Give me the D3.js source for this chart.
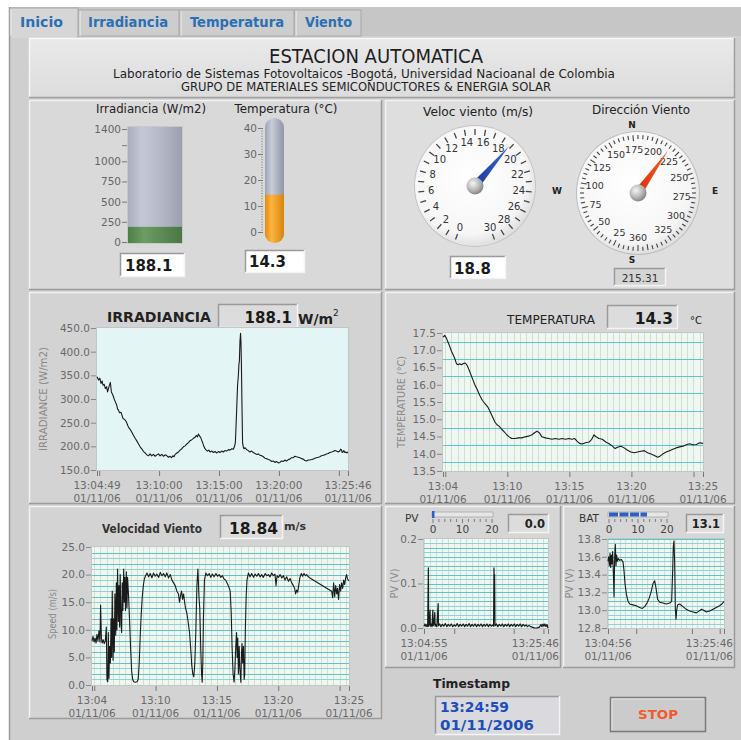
<!DOCTYPE html>
<html><head><meta charset="utf-8">
<script src="https://cdn.jsdelivr.net/npm/d3@7"></script>
<style>
html,body{margin:0;padding:0;background:#fff;}
svg{display:block;font-family:"DejaVu Sans",sans-serif;}
</style>
</head><body>
<svg id="panel" width="741" height="740"></svg>
<script>
// ---------- readings ----------
const tabNames = ["Inicio", "Irradiancia", "Temperatura", "Viento"];
const irradianceNow = 188.1;
const temperatureNow = 14.3;
const windSpeedNow = 18.8;
const windSpeedChartNow = 18.84;
const windDirectionNow = 215.31;
const pvNow = 0.0;
const batNow = 13.1;
const timestampLines = ["13:24:59", "01/11/2006"];

// gauge scales
const irrGaugeTicks = [0, 250, 500, 750, 1000, 1400];
const tempGaugeTicks = [0, 10, 20, 30, 40];
const speedDialLabels = [0, 2, 4, 6, 8, 10, 12, 14, 16, 18, 20, 22, 24, 26, 28, 30];
const compassLabels = [25, 50, 75, 100, 125, 150, 175, 200, 225, 250, 275, 300, 325, 360];

// chart axes
const irrYTicks = [150, 200, 250, 300, 350, 400, 450];
const tempYTicks = [13.5, 14.0, 14.5, 15.0, 15.5, 16.0, 16.5, 17.0, 17.5];
const windYTicks = [0, 5, 10, 15, 20, 25];
const pvYTicks = [0, 0.1, 0.2];
const batYTicks = [12.8, 13.0, 13.2, 13.4, 13.6, 13.8];

// series: [seconds after the chart start, value]
const irradianceSeries = [[0,347],[8,340],[14,344],[20,333],[26,338],[30,329],[36,331],[42,322],[48,326],[53,315],[60,326],[67,335],[72,315],[80,308],[86,300],[92,294],[98,288],[103,279],[108,276],[113,271],[120,272],[125,266],[130,259],[138,257],[147,252],[152,246],[158,240],[166,236],[175,229],[183,223],[191,217],[200,211],[208,205],[216,199],[225,194],[233,189],[241,186],[250,182],[258,180],[266,184],[274,180],[283,183],[291,179],[300,182],[308,184],[316,180],[325,183],[333,179],[341,182],[350,180],[358,177],[366,179],[373,176],[380,180],[386,178],[391,183],[400,186],[408,188],[416,192],[425,195],[433,199],[441,201],[450,205],[458,208],[466,212],[475,214],[483,217],[491,219],[497,223],[503,220],[508,226],[513,222],[519,219],[524,213],[529,208],[535,200],[541,195],[547,192],[553,190],[560,192],[566,188],[575,190],[583,187],[591,189],[600,186],[608,189],[616,187],[625,190],[633,188],[641,191],[649,190],[658,193],[666,192],[675,195],[683,194],[688,199],[693,208],[696,240],[699,272],[704,329],[708,350],[711,375],[713,379],[716,422],[719,439],[721,420],[723,379],[726,286],[729,208],[733,198],[736,195],[742,197],[749,193],[757,191],[766,188],[774,190],[783,187],[791,185],[799,183],[808,184],[816,181],[825,180],[833,178],[841,175],[849,174],[858,172],[866,171],[875,168],[883,169],[891,166],[899,168],[908,165],[916,166],[924,169],[933,168],[941,171],[949,169],[958,172],[966,173],[974,176],[983,176],[991,179],[999,178],[1008,177],[1016,176],[1024,174],[1033,173],[1041,170],[1049,169],[1058,171],[1066,171],[1075,172],[1083,173],[1091,175],[1099,176],[1108,177],[1116,178],[1124,180],[1133,181],[1141,182],[1149,184],[1158,185],[1166,187],[1175,188],[1183,189],[1191,191],[1199,190],[1208,188],[1216,190],[1220,194],[1224,193],[1228,187],[1232,188],[1236,191],[1241,187],[1246,188],[1252,186],[1257,188.1]];

const temperatureSeries = [[0,17.38],[8,17.43],[16,17.36],[24,17.24],[32,17.12],[41,16.97],[49,16.87],[57,16.76],[65,16.61],[73,16.58],[81,16.61],[89,16.58],[97,16.61],[105,16.63],[114,16.59],[122,16.49],[130,16.37],[141,16.2],[154,16.0],[167,15.84],[178,15.69],[190,15.55],[203,15.45],[216,15.36],[227,15.23],[238,15.09],[251,14.92],[261,14.84],[271,14.8],[284,14.71],[297,14.63],[308,14.55],[320,14.49],[332,14.44],[349,14.44],[365,14.46],[381,14.46],[397,14.49],[414,14.51],[430,14.55],[443,14.61],[454,14.65],[466,14.61],[478,14.49],[495,14.46],[511,14.44],[527,14.42],[543,14.44],[560,14.42],[576,14.44],[592,14.42],[608,14.44],[624,14.42],[637,14.44],[649,14.36],[660,14.3],[673,14.28],[689,14.32],[706,14.34],[719,14.42],[730,14.55],[738,14.5],[754,14.44],[770,14.42],[787,14.34],[803,14.29],[819,14.22],[832,14.15],[843,14.19],[860,14.22],[876,14.17],[892,14.1],[908,14.05],[924,14.03],[941,14.05],[957,14.07],[973,14.09],[989,14.03],[1006,13.99],[1022,13.95],[1038,13.9],[1049,13.93],[1062,13.99],[1079,14.05],[1095,14.09],[1111,14.13],[1127,14.17],[1144,14.2],[1160,14.22],[1176,14.26],[1192,14.29],[1208,14.26],[1225,14.27],[1241,14.32],[1257,14.3]];

const windSeries = [[0,8.0],[5,8.8],[10,7.8],[15,8.5],[20,7.6],[24,9.2],[29,8.0],[34,9.8],[39,7.8],[42,14.5],[46,8.5],[50,7.6],[55,8.2],[60,7.5],[65,8.0],[70,10.5],[73,1.0],[77,0.6],[80,9.5],[83,1.2],[86,7.0],[90,4.0],[93,12.0],[96,5.0],[99,17.0],[103,4.5],[106,12.0],[109,6.0],[112,16.5],[116,9.0],[119,18.5],[122,10.0],[125,21.0],[129,11.5],[132,18.0],[135,10.5],[138,20.0],[142,11.0],[145,9.5],[148,18.5],[151,13.5],[155,21.0],[158,15.0],[161,19.5],[164,13.5],[168,20.5],[171,14.0],[174,19.5],[179,16.0],[184,11.5],[189,6.5],[194,2.5],[199,1.0],[204,0.6],[212,0.5],[220,0.6],[226,1.0],[231,4.0],[236,9.0],[241,13.0],[246,16.0],[251,18.0],[256,19.2],[262,19.8],[269,20.3],[277,19.6],[285,20.2],[293,19.4],[301,20.3],[309,19.7],[317,20.1],[326,19.5],[334,20.4],[342,19.8],[350,20.2],[358,19.6],[366,20.3],[374,19.4],[383,20.0],[391,19.0],[399,18.5],[407,18.0],[415,17.0],[423,16.5],[428,15.0],[433,16.2],[438,17.0],[443,15.5],[448,16.5],[453,15.0],[457,14.0],[464,13.0],[470,11.5],[477,9.5],[484,6.0],[488,3.5],[493,2.0],[498,1.5],[503,4.0],[508,10.0],[513,18.0],[518,21.0],[523,16.0],[527,14.0],[532,6.5],[536,2.0],[539,0.5],[542,4.0],[545,12.0],[550,19.0],[557,20.3],[565,19.8],[573,20.2],[581,19.5],[589,20.1],[597,19.6],[606,20.2],[614,19.7],[622,20.0],[630,19.5],[638,19.8],[646,19.2],[654,19.0],[663,18.3],[669,17.8],[676,17.0],[681,13.0],[685,7.0],[690,2.0],[695,0.5],[699,3.0],[702,6.0],[707,9.5],[710,5.0],[713,8.5],[716,2.0],[720,7.0],[723,3.0],[728,0.5],[731,5.5],[734,7.5],[737,4.0],[741,7.0],[744,1.0],[747,2.0],[750,10.0],[754,16.0],[758,19.0],[765,20.3],[773,19.6],[781,20.2],[790,19.5],[798,20.1],[806,19.7],[814,20.2],[822,19.6],[830,20.0],[838,19.5],[847,20.2],[855,19.8],[863,20.0],[871,19.6],[879,20.3],[887,19.8],[895,20.1],[900,18.0],[905,19.8],[912,19.5],[920,20.0],[928,19.4],[936,19.8],[944,19.0],[952,19.6],[961,18.8],[969,19.3],[977,18.5],[985,18.0],[991,17.5],[996,16.5],[1001,17.2],[1006,16.8],[1011,18.0],[1017,19.5],[1024,20.2],[1030,19.7],[1037,20.2],[1044,19.8],[1050,20.0],[1058,19.6],[1066,19.4],[1172,17.0],[1177,15.8],[1182,18.5],[1187,16.0],[1192,18.0],[1197,16.5],[1201,17.5],[1206,15.5],[1211,18.2],[1216,17.0],[1221,18.5],[1226,17.5],[1231,19.0],[1236,18.2],[1241,19.5],[1245,20.0],[1250,19.2],[1257,18.84]];

const pvSeries = [[0,0.004],[10,0.009],[20,0.003],[30,0.008],[37,0.003],[44,0.135],[47,0.004],[54,0.01],[61,0.04],[64,0.004],[72,0.009],[80,0.003],[89,0.04],[92,0.005],[100,0.009],[109,0.035],[112,0.004],[120,0.008],[130,0.003],[143,0.055],[146,0.005],[158,0.009],[170,0.003],[185,0.008],[200,0.004],[215,0.01],[230,0.003],[245,0.008],[260,0.004],[275,0.009],[290,0.003],[305,0.007],[320,0.004],[335,0.01],[350,0.003],[365,0.008],[380,0.004],[395,0.009],[410,0.003],[425,0.008],[440,0.004],[455,0.01],[470,0.003],[485,0.008],[500,0.004],[515,0.009],[530,0.003],[545,0.008],[560,0.004],[575,0.009],[590,0.003],[605,0.008],[620,0.004],[635,0.009],[650,0.003],[665,0.008],[680,0.004],[695,0.007],[702,0.004],[706,0.135],[709,0.08],[712,0.12],[716,0.005],[730,0.009],[745,0.003],[760,0.008],[775,0.004],[790,0.009],[805,0.003],[820,0.008],[835,0.004],[850,0.009],[865,0.003],[880,0.008],[895,0.004],[910,0.009],[925,0.003],[940,0.008],[955,0.004],[970,0.009],[985,0.003],[1000,0.008],[1015,0.004],[1030,0.007],[1045,0.003],[1060,0.006],[1075,0.003],[1090,0.002],[1105,0.001],[1120,0.0],[1135,0.0],[1150,0.001],[1165,0.002],[1180,0.008],[1190,0.003],[1200,0.009],[1210,0.004],[1220,0.009],[1230,0.003],[1240,0.008],[1251,0.0]];

const batSeries = [[0,13.55],[7,13.6],[14,13.5],[22,13.64],[29,13.48],[36,13.62],[43,13.52],[50,13.66],[57,13.45],[65,13.15],[72,13.6],[79,13.74],[86,13.5],[93,13.62],[101,13.55],[111,13.58],[126,13.56],[144,13.57],[162,13.54],[172,13.45],[183,13.3],[198,13.18],[216,13.1],[233,13.07],[269,13.06],[305,13.05],[341,13.03],[370,13.02],[395,13.04],[420,13.08],[442,13.13],[463,13.2],[485,13.3],[503,13.33],[517,13.25],[535,13.12],[557,13.09],[593,13.08],[629,13.07],[665,13.08],[686,13.1],[697,13.45],[704,13.72],[711,13.78],[718,13.55],[726,13.0],[733,12.9],[740,13.0],[751,13.06],[772,13.07],[808,13.04],[844,13.01],[880,12.99],[916,12.98],[952,12.97],[981,12.99],[1006,13.01],[1031,13.0],[1060,12.98],[1096,12.99],[1131,13.01],[1167,13.03],[1203,13.05],[1228,13.07],[1250,13.1]];

// ---------- helpers ----------
const svg = d3.select("#panel");
const defs = svg.append("defs");
const at = (h, m, s) => new Date(2006, 10, 1, h, m, s);
const fmtHMS = d3.timeFormat("%H:%M:%S");
const fmtHM = d3.timeFormat("%H:%M");
const fmtDate = d3.timeFormat("%d/%m/%y");
const rad = a => a * Math.PI / 180;

function grad(id, stops, x2 = 1, y2 = 0) {
  const g = defs.append("linearGradient").attr("id", id)
    .attr("x1", 0).attr("y1", 0).attr("x2", x2).attr("y2", y2);
  stops.forEach(([o, c]) => g.append("stop").attr("offset", o).attr("stop-color", c));
}
function rgrad(id, stops, cx = 0.5, cy = 0.5, r = 0.5) {
  const g = defs.append("radialGradient").attr("id", id)
    .attr("cx", cx).attr("cy", cy).attr("r", r);
  stops.forEach(([o, c]) => g.append("stop").attr("offset", o).attr("stop-color", c));
}
function txt(g, x, y, s, o = {}) {
  const t = g.append("text").attr("x", x).attr("y", y).text(s)
    .attr("font-size", o.size || 11).attr("fill", o.fill || "#222")
    .attr("text-anchor", o.anchor || "start");
  if (o.weight) t.attr("font-weight", o.weight);
  if (o.family) t.attr("font-family", o.family);
  if (o.len) t.attr("textLength", o.len).attr("lengthAdjust", "spacingAndGlyphs");
  return t;
}
function panel(x, y, w, h, fill) {
  svg.append("rect").attr("x", x).attr("y", y).attr("width", w).attr("height", h).attr("fill", fill);
  svg.append("path").attr("d", `M${x + 0.5},${y + h}V${y + 0.5}H${x + w}`)
    .attr("fill", "none").attr("stroke", "#f2f2f2").attr("stroke-width", 1.5);
  svg.append("path").attr("d", `M${x + w - 0.5},${y}V${y + h - 0.5}H${x}`)
    .attr("fill", "none").attr("stroke", "#9c9c9c").attr("stroke-width", 1.5);
}
function inset(x, y, w, h, fill) {
  svg.append("rect").attr("x", x).attr("y", y).attr("width", w).attr("height", h).attr("fill", fill);
  svg.append("path").attr("d", `M${x + 0.5},${y + h}V${y + 0.5}H${x + w}`)
    .attr("fill", "none").attr("stroke", "#9a9a9a").attr("stroke-width", 1.5);
  svg.append("path").attr("d", `M${x + w - 0.5},${y}V${y + h - 0.5}H${x}`)
    .attr("fill", "none").attr("stroke", "#f4f4f4").attr("stroke-width", 1.5);
}

grad("gHeader", [[0, "#e9e9e9"], [1, "#dcdcdc"]], 0, 1);
grad("gTank", [[0, "#a9adbd"], [0.25, "#c4c8d6"], [0.6, "#b6bac8"], [1, "#9a9eae"]]);
grad("gTankFill", [[0, "#4e7f48"], [0.3, "#6b9d64"], [1, "#4a7644"]]);
grad("gTube", [[0, "#9ea3b4"], [0.35, "#c9cdda"], [1, "#8f94a6"]]);
grad("gTubeFill", [[0, "#e38c12"], [0.35, "#fbb540"], [1, "#d98408"]]);
rgrad("gFace", [[0, "#ffffff"], [0.8, "#f6f6f6"], [1, "#dcdcdc"]], 0.45, 0.42, 0.6);
rgrad("gHub", [[0, "#f5f5f5"], [0.6, "#b4b4b4"], [1, "#7c7c7c"]], 0.38, 0.35, 0.7);
grad("gBlueNeedle", [[0, "#16318f"], [1, "#3d6ad8"]]);
grad("gRedNeedle", [[0, "#d82808"], [1, "#f3622a"]]);

// ---------- frame and tabs ----------
svg.append("rect").attr("x", 9).attr("y", 7).attr("width", 732).attr("height", 30).attr("fill", "#c6c6c6");
svg.append("rect").attr("x", 9).attr("y", 36).attr("width", 732).attr("height", 704).attr("fill", "#cfcfcf");
svg.append("line").attr("x1", 9.5).attr("x2", 9.5).attr("y1", 7).attr("y2", 740).attr("stroke", "#9a9a9a").attr("stroke-width", 1.5);

const tabBoxes = [[10, 78], [79, 179], [180, 294], [295, 361]];
tabNames.forEach((name, i) => {
  const [a, b] = tabBoxes[i];
  const sel = i === 0;
  svg.append("rect").attr("x", a).attr("y", sel ? 8 : 10).attr("width", b - a).attr("height", sel ? 29 : 26)
    .attr("fill", sel ? "#d6d6d6" : "#cdcdcd").attr("stroke", "#a8a8a8").attr("stroke-width", 1);
  svg.append("line").attr("x1", a + 1).attr("x2", a + 1).attr("y1", sel ? 9 : 11).attr("y2", 36)
    .attr("stroke", "#efefef");
});
svg.append("rect").attr("x", 11).attr("y", 34).attr("width", 66).attr("height", 4).attr("fill", "#d6d6d6");
const tabText = [[20, 43], [88, 80], [190, 94], [305, 47]];
tabNames.forEach((name, i) => {
  txt(svg, tabText[i][0], 27, name, { size: 14, weight: "bold", fill: "#2b6fb4",
    family: "'DejaVu Sans Condensed', 'DejaVu Sans', sans-serif", len: tabText[i][1] });
});

// ---------- panels ----------
svg.append("rect").attr("x", 29).attr("y", 38).attr("width", 706).attr("height", 60).attr("fill", "url(#gHeader)");
svg.append("path").attr("d", "M29.5,98V38.5H735").attr("fill", "none").attr("stroke", "#f8f8f8").attr("stroke-width", 1.5);
svg.append("path").attr("d", "M734.5,38V97.5H29").attr("fill", "none").attr("stroke", "#a0a0a0").attr("stroke-width", 1.5);

panel(29, 100, 353, 190, "#d9d9d9");
panel(385, 100, 350, 190, "#dedede");
panel(29, 292, 353, 212, "#d3d3d3");
panel(385, 292, 350, 212, "#d6d6d6");
panel(29, 506, 353, 213, "#d3d3d3");
panel(385, 506, 176, 162, "#d6d6d6");
panel(563, 506, 172, 162, "#d6d6d6");

// header texts
const condensed = "'DejaVu Sans Condensed', 'Liberation Sans Narrow', sans-serif";
txt(svg, 376, 63, "ESTACION AUTOMATICA", { size: 19, anchor: "middle", family: condensed, fill: "#1e1e1e", len: 214 });
txt(svg, 364, 78, "Laboratorio de Sistemas Fotovoltaicos -Bogotá,  Universidad Nacioanal de Colombia",
  { size: 12, anchor: "middle", family: condensed, fill: "#1e1e1e", len: 502 });
txt(svg, 366, 91, "GRUPO DE MATERIALES SEMICONDUCTORES & ENERGIA SOLAR",
  { size: 12, anchor: "middle", family: condensed, fill: "#1e1e1e", len: 370 });

// ---------- irradiance tank ----------
(function () {
  txt(svg, 151, 113, "Irradiancia (W/m2)", { size: 11.5, anchor: "middle", fill: "#222", len: 110 });
  const y = d3.scaleLinear().domain([0, 1400]).range([242, 129]);
  const x0 = 128, x1 = 182;
  svg.append("rect").attr("x", x0).attr("y", 127).attr("width", x1 - x0).attr("height", 243 - 127).attr("fill", "url(#gTank)");
  svg.append("rect").attr("x", x0).attr("y", y(irradianceNow)).attr("width", x1 - x0)
    .attr("height", 243 - y(irradianceNow)).attr("fill", "url(#gTankFill)");
  svg.append("rect").attr("x", x0 - 0.5).attr("y", 126.5).attr("width", x1 - x0 + 1).attr("height", 117)
    .attr("fill", "none").attr("stroke", "#c8c8c8");
  const ax = d3.axisLeft(y).tickValues(irrGaugeTicks.concat([1200])).tickSize(5).tickPadding(1)
    .tickFormat(d => d === 1200 ? "" : d);
  svg.append("g").attr("transform", `translate(${x0 - 1},0)`).call(ax)
    .call(g => {
      g.select(".domain").remove();
      g.selectAll("line").attr("stroke", "#777");
      g.selectAll("text").attr("fill", "#666").attr("font-size", 10.5).attr("font-family", "DejaVu Sans");
    });
  inset(120, 253, 65, 24, "#ffffff");
  txt(svg, 125, 271, irradianceNow.toFixed(1), { size: 15, weight: "bold", fill: "#1a1a1a" });
})();

// ---------- thermometer ----------
(function () {
  txt(svg, 286, 113, "Temperatura (°C)", { size: 11.5, anchor: "middle", fill: "#222", len: 103 });
  const y = d3.scaleLinear().domain([0, 40]).range([232, 128]);
  const x0 = 265, w = 19;
  svg.append("rect").attr("x", x0).attr("y", 118).attr("width", w).attr("height", 125).attr("rx", 9.5)
    .attr("fill", "url(#gTube)");
  const cp = defs.append("clipPath").attr("id", "tubeClip");
  cp.append("rect").attr("x", x0).attr("y", y(temperatureNow)).attr("width", w).attr("height", 243 - y(temperatureNow));
  svg.append("rect").attr("x", x0).attr("y", 118).attr("width", w).attr("height", 125).attr("rx", 9.5)
    .attr("fill", "url(#gTubeFill)").attr("clip-path", "url(#tubeClip)");
  const minor = d3.range(0, 41, 1);
  svg.append("g").selectAll("line").data(minor).join("line")
    .attr("x1", d => d % 10 === 0 ? 258 : 261).attr("x2", 263)
    .attr("y1", d => y(d) + 0.5).attr("y2", d => y(d) + 0.5)
    .attr("stroke", d => d % 10 === 0 ? "#777" : "#999").attr("stroke-width", d => d % 10 === 0 ? 1 : 0.8);
  tempGaugeTicks.forEach(v => txt(svg, 257, y(v) + 4, v, { size: 10.5, anchor: "end", fill: "#666" }));
  inset(245, 250, 60, 23, "#ffffff");
  txt(svg, 249, 267, temperatureNow.toFixed(1), { size: 15, weight: "bold", fill: "#1a1a1a" });
})();

// ---------- dials ----------
function needle(cx, cy, angle, len, base, fill) {
  const a = rad(angle);
  const ux = Math.sin(a), uy = -Math.cos(a);
  const px = -uy, py = ux;
  const pts = [
    [cx + ux * len, cy + uy * len],
    [cx + px * base - ux * 3, cy + py * base - uy * 3],
    [cx - px * base - ux * 3, cy - py * base - uy * 3]
  ];
  svg.append("polygon").attr("points", pts.map(p => p.join(",")).join(" ")).attr("fill", fill);
}
function hub(cx, cy) {
  svg.append("circle").attr("cx", cx).attr("cy", cy).attr("r", 8.5).attr("fill", "url(#gHub)");
}

// wind speed dial
(function () {
  const cx = 475, cy = 186, r = 60;
  txt(svg, 478, 116, "Veloc viento (m/s)", { size: 12, anchor: "middle", fill: "#222", len: 110 });
  svg.append("circle").attr("cx", cx).attr("cy", cy).attr("r", r + 1).attr("fill", "#c4c4c4");
  svg.append("circle").attr("cx", cx).attr("cy", cy).attr("r", r).attr("fill", "url(#gFace)");
  const ang = d3.scaleLinear().domain([0, 30]).range([-160, 160]);
  d3.range(0, 31).forEach(v => {
    const a = rad(ang(v));
    svg.append("line")
      .attr("x1", cx + Math.sin(a) * 51).attr("y1", cy - Math.cos(a) * 51)
      .attr("x2", cx + Math.sin(a) * 57).attr("y2", cy - Math.cos(a) * 57)
      .attr("stroke", "#444").attr("stroke-width", 1.3);
  });
  speedDialLabels.forEach(v => {
    const a = rad(ang(v));
    txt(svg, cx + Math.sin(a) * 44, cy - Math.cos(a) * 44 + 3.5, v, { size: 10, anchor: "middle", fill: "#333" });
  });
  needle(cx, cy, ang(windSpeedNow), 53, 4.5, "url(#gBlueNeedle)");
  hub(cx, cy);
  inset(450, 256, 56, 23, "#ffffff");
  txt(svg, 454, 274, windSpeedNow.toFixed(1), { size: 15, weight: "bold", fill: "#1a1a1a" });
})();

// wind direction compass
(function () {
  const cx = 638, cy = 193, r = 61;
  txt(svg, 641, 114, "Dirección Viento", { size: 12, anchor: "middle", fill: "#222", len: 98 });
  txt(svg, 632, 128, "N", { size: 9, anchor: "middle", fill: "#222", weight: "bold" });
  txt(svg, 632, 263, "S", { size: 9, anchor: "middle", fill: "#222", weight: "bold" });
  txt(svg, 557, 194, "W", { size: 9, anchor: "middle", fill: "#222", weight: "bold" });
  txt(svg, 715, 194, "E", { size: 9, anchor: "middle", fill: "#222", weight: "bold" });
  svg.append("circle").attr("cx", cx).attr("cy", cy).attr("r", r + 1).attr("fill", "#bdbdbd");
  svg.append("circle").attr("cx", cx).attr("cy", cy).attr("r", r).attr("fill", "url(#gFace)");
  const ang = d3.scaleLinear().domain([0, 360]).range([180, 540]);
  d3.range(0, 360, 5).forEach(v => {
    const a = rad(ang(v));
    const inner = v % 25 === 0 ? 52 : 54;
    svg.append("line")
      .attr("x1", cx + Math.sin(a) * inner).attr("y1", cy - Math.cos(a) * inner)
      .attr("x2", cx + Math.sin(a) * 58).attr("y2", cy - Math.cos(a) * 58)
      .attr("stroke", "#444").attr("stroke-width", 1.1);
  });
  compassLabels.forEach(v => {
    const a = rad(ang(v));
    txt(svg, cx + Math.sin(a) * 44, cy - Math.cos(a) * 44 + 3.5, v, { size: 9.5, anchor: "middle", fill: "#333" });
  });
  needle(cx, cy, ang(windDirectionNow), 52, 4.5, "url(#gRedNeedle)");
  hub(cx, cy);
  inset(614, 268, 52, 18, "#d4d4d4");
  txt(svg, 640, 282, windDirectionNow.toFixed(2), { size: 10.5, anchor: "middle", fill: "#333" });
})();

// ---------- strip charts ----------
function stripChart(o) {
  const g = svg.append("g");
  if (o.clip) g.attr("clip-path", `url(#${o.clip})`);
  const x = d3.scaleTime().domain([o.t0, o.t1]).range([o.x0, o.x1]);
  const y = d3.scaleLinear().domain(o.yDomain).range([o.y1, o.y0]);
  const toDate = s => new Date(+o.t0 + s * 1000);
  g.append("rect").attr("x", o.x0).attr("y", o.y0).attr("width", o.x1 - o.x0).attr("height", o.y1 - o.y0)
    .attr("fill", o.bg);
  if (o.vStep) {
    g.append("g").selectAll("line").data(d3.timeSecond.every(o.vStep).range(o.t0, o.t1)).join("line")
      .attr("x1", d => Math.round(x(d)) + 0.5).attr("x2", d => Math.round(x(d)) + 0.5)
      .attr("y1", o.y0).attr("y2", o.y1).attr("stroke", o.vColor).attr("stroke-width", 1);
  }
  if (o.hGrid) {
    g.append("g").selectAll("line").data(o.hGrid).join("line")
      .attr("x1", o.x0).attr("x2", o.x1)
      .attr("y1", d => Math.round(y(d)) + 0.5).attr("y2", d => Math.round(y(d)) + 0.5)
      .attr("stroke", (d, i) => o.hColor(i)).attr("stroke-width", 1);
  }
  g.append("rect").attr("x", o.x0 - 0.5).attr("y", o.y0 - 0.5).attr("width", o.x1 - o.x0 + 1)
    .attr("height", o.y1 - o.y0 + 1).attr("fill", "none").attr("stroke", "#c2c6c6");
  const line = d3.line().x(d => x(toDate(d[0]))).y(d => y(d[1]));
  g.append("path").datum(o.series).attr("d", line).attr("fill", "none")
    .attr("stroke", "#1a1a1a").attr("stroke-width", o.lw || 1.1).attr("stroke-linejoin", "round");

  const ya = d3.axisLeft(y).tickValues(o.yTicks).tickFormat(o.yFormat).tickSize(5).tickPadding(1);
  g.append("g").attr("transform", `translate(${o.x0 - 1},0)`).call(ya)
    .call(a => {
      a.select(".domain").remove();
      a.selectAll("line").attr("stroke", "#888");
      a.selectAll("text").attr("fill", "#6a6a6a").attr("font-size", o.fs || 10.5).attr("font-family", "DejaVu Sans");
    });
  const xa = d3.axisBottom(x).tickValues(o.xTicks).tickSize(5).tickFormat("");
  g.append("g").attr("transform", `translate(0,${o.y1 + 1})`).call(xa)
    .call(a => { a.select(".domain").remove(); a.selectAll("line").attr("stroke", "#777"); });
  // time labels: [time, format, optional right edge the label must end at]
  o.xLabels.forEach(([d, f, rightEdge]) => {
    const lx = rightEdge !== undefined ? rightEdge : x(d);
    const t = g.append("text").attr("text-anchor", rightEdge !== undefined ? "end" : "middle")
      .attr("font-size", o.fs || 10.5).attr("fill", "#6a6a6a");
    t.append("tspan").attr("x", lx).attr("y", o.labelY).text(f(d));
    t.append("tspan").attr("x", lx).attr("y", o.labelY + 12.5).text(fmtDate(d));
  });
  const yt = g.append("text").attr("transform", `translate(${o.titleX},${(o.y0 + o.y1) / 2 + (o.titleDy || 0)}) rotate(-90)`)
    .attr("text-anchor", "middle").attr("font-size", o.titleSize || 10.5).attr("fill", "#8a8a8a").text(o.title);
  if (o.titleLen) yt.attr("textLength", o.titleLen).attr("lengthAdjust", "spacingAndGlyphs");
  return { x, y };
}

const mainStart = at(13, 4, 49), mainEnd = at(13, 25, 46);
const fiveMin = [mainStart, at(13, 5, 0), at(13, 10, 0), at(13, 15, 0), at(13, 20, 0), at(13, 25, 0), mainEnd];

// irradiance
txt(svg, 107, 322, "IRRADIANCIA", { size: 13.5, weight: "bold", fill: "#222", len: 104 });
inset(218, 304, 80, 24, "#dcdcdc");
txt(svg, 292, 323, irradianceNow.toFixed(1), { size: 15, weight: "bold", anchor: "end", fill: "#1a1a1a" });
txt(svg, 298, 324, "W/m", { size: 14, weight: "bold", fill: "#222" });
txt(svg, 333, 316, "2", { size: 9, fill: "#222" });
stripChart({
  x0: 97, x1: 348, y0: 328, y1: 470, t0: mainStart, t1: mainEnd,
  yDomain: [150, 450], yTicks: irrYTicks, yFormat: d3.format(".1f"),
  bg: "#e4f5f5", series: irradianceSeries, xTicks: fiveMin,
  xLabels: [[mainStart, fmtHMS], [at(13, 10, 0), fmtHMS], [at(13, 15, 0), fmtHMS], [at(13, 20, 0), fmtHMS], [mainEnd, fmtHMS]],
  labelY: 489, title: "IRRADIANCE (W/m2)", titleX: 47, titleLen: 104
});

// temperature
txt(svg, 507, 324, "TEMPERATURA", { size: 11.5, fill: "#222", len: 88 });
inset(607, 305, 71, 24, "#dcdcdc");
txt(svg, 673, 324, temperatureNow.toFixed(1), { size: 15.5, weight: "bold", anchor: "end", fill: "#1a1a1a" });
txt(svg, 690, 324, "°C", { size: 10, fill: "#222" });
stripChart({
  x0: 443, x1: 703, y0: 333, y1: 471, t0: mainStart, t1: mainEnd,
  yDomain: [13.5, 17.5], yTicks: tempYTicks, yFormat: d3.format(".1f"),
  bg: "#eef8f2", series: temperatureSeries, xTicks: fiveMin,
  vStep: 30, vColor: "#d8dccc",
  hGrid: [13.75, 14.25, 14.75, 15.25, 15.75, 16.25, 16.75, 17.25], hColor: () => "#5fc6cc",
  xLabels: [[mainStart, fmtHM], [at(13, 10, 0), fmtHM], [at(13, 15, 0), fmtHM], [at(13, 20, 0), fmtHM], [mainEnd, fmtHM]],
  labelY: 490, title: "TEMPERATURE (°C)", titleX: 405, titleLen: 92
});

// wind speed
txt(svg, 102, 533, "Velocidad Viento", { size: 12.5, weight: "bold", fill: "#333", len: 100 });
inset(220, 515, 63, 24, "#dcdcdc");
txt(svg, 278, 534, windSpeedChartNow.toFixed(2), { size: 15.5, weight: "bold", anchor: "end", fill: "#1a1a1a" });
txt(svg, 284, 530, "m/s", { size: 11, weight: "bold", fill: "#333" });
stripChart({
  x0: 92, x1: 349, y0: 547, y1: 685, t0: mainStart, t1: mainEnd,
  yDomain: [0, 25], yTicks: windYTicks, yFormat: d3.format(".1f"),
  bg: "#eef8f2", series: windSeries, xTicks: fiveMin,
  vStep: 30, vColor: "#dedcc8",
  hGrid: d3.range(1, 25), hColor: i => (i % 2 === 0 ? "#8fd3d8" : "#5fc3ca"),
  xLabels: [[mainStart, fmtHM], [at(13, 10, 0), fmtHM], [at(13, 15, 0), fmtHM], [at(13, 20, 0), fmtHM], [mainEnd, fmtHM]],
  labelY: 704, title: "Speed (m/s)", titleX: 56, titleDy: -2, titleLen: 50
});

// small sliders
function slider(x0, x1, y, value, label, labelX) {
  txt(svg, labelX, 522, label, { size: 10.5, fill: "#333" });
  const s = d3.scaleLinear().domain([0, 20]).range([x0, x1]);
  svg.append("rect").attr("x", x0 - 1).attr("y", y).attr("width", x1 - x0 + 2).attr("height", 5)
    .attr("fill", "#e6e6e6").attr("stroke", "#a8a8a8").attr("stroke-width", 0.8);
  if (value > 0) {
    const w = s(value) - x0;
    for (let p = 0; p < w; p += 10.5) {
      svg.append("rect").attr("x", x0 + p).attr("y", y + 0.5).attr("width", Math.min(9, w - p)).attr("height", 4)
        .attr("fill", "#2e5fc4");
    }
  } else {
    svg.append("rect").attr("x", x0 - 1).attr("y", y - 1).attr("width", 2.5).attr("height", 7).attr("fill", "#2e5fc4");
  }
  d3.range(0, 21, 2).forEach(v => {
    svg.append("line").attr("x1", s(v)).attr("x2", s(v)).attr("y1", y + 7).attr("y2", y + (v % 10 === 0 ? 11 : 10))
      .attr("stroke", "#666").attr("stroke-width", 0.8);
  });
  [0, 10, 20].forEach(v => txt(svg, s(v), y + 21, v, { size: 10.5, anchor: "middle", fill: "#444" }));
}

defs.append("clipPath").attr("id", "pvClip").append("rect").attr("x", 386).attr("y", 507).attr("width", 175).attr("height", 160);
defs.append("clipPath").attr("id", "batClip").append("rect").attr("x", 564).attr("y", 507).attr("width", 171).attr("height", 160);

// PV
slider(433, 492, 512, pvNow, "PV", 405);
inset(508, 514, 41, 19, "#dcdcdc");
txt(svg, 545, 528, pvNow.toFixed(1), { size: 11.5, weight: "bold", anchor: "end", fill: "#222" });
const pvStart = at(13, 4, 55);
stripChart({
  clip: "pvClip",
  x0: 424, x1: 548, y0: 539, y1: 628, t0: pvStart, t1: mainEnd,
  yDomain: [0, 0.2], yTicks: pvYTicks, yFormat: d3.format(".1f"), fs: 10.5,
  bg: "#eef8f2", series: pvSeries, lw: 1.2,
  xTicks: [pvStart, at(13, 10, 0), at(13, 20, 0), at(13, 25, 0), mainEnd],
  vStep: 60, vColor: "#d8dccc",
  hGrid: d3.range(0.01, 0.2, 0.01), hColor: i => (i % 2 === 0 ? "#8fd3d8" : "#5fc3ca"),
  xLabels: [[pvStart, fmtHMS], [mainEnd, fmtHMS, 559]],
  labelY: 647, title: "PV (V)", titleX: 398, titleLen: 30
});

// battery
slider(609, 667, 512, batNow, "BAT", 579);
inset(686, 514, 38, 19, "#dcdcdc");
txt(svg, 720, 528, batNow.toFixed(1), { size: 11.5, weight: "bold", anchor: "end", fill: "#222" });
const batStart = at(13, 4, 56);
stripChart({
  clip: "batClip",
  x0: 608, x1: 724, y0: 539, y1: 628, t0: batStart, t1: mainEnd,
  yDomain: [12.8, 13.8], yTicks: batYTicks, yFormat: d3.format(".1f"), fs: 10.5,
  bg: "#eef8f2", series: batSeries, lw: 1.1,
  xTicks: [batStart, at(13, 10, 0), at(13, 20, 0), at(13, 25, 0), mainEnd],
  vStep: 60, vColor: "#d8dccc",
  hGrid: d3.range(12.85, 13.8, 0.05), hColor: i => (i % 2 === 0 ? "#8fd3d8" : "#5fc3ca"),
  xLabels: [[batStart, fmtHMS], [mainEnd, fmtHMS, 733]],
  labelY: 647, title: "PV (V)", titleX: 573, titleLen: 30
});

// ---------- timestamp and stop ----------
txt(svg, 433, 688, "Timestamp", { size: 12.5, weight: "bold", fill: "#222", len: 77 });
inset(435, 696, 125, 39, "#d9d9de");
txt(svg, 440, 712, timestampLines[0], { size: 14.5, weight: "bold", fill: "#1d4fb8", len: 69 });
txt(svg, 440, 730, timestampLines[1], { size: 14.5, weight: "bold", fill: "#1d4fb8", len: 94 });
svg.append("rect").attr("x", 610.5).attr("y", 697.5).attr("width", 95).attr("height", 34)
  .attr("fill", "#cbcbcb").attr("stroke", "#7a7a7a").attr("stroke-width", 1.5);
svg.append("path").attr("d", "M612,730V699H704").attr("fill", "none").attr("stroke", "#e4e4e4");
txt(svg, 658, 719, "STOP", { size: 13, weight: "bold", anchor: "middle", fill: "#f2592c", len: 40 });
</script>
</body></html>
